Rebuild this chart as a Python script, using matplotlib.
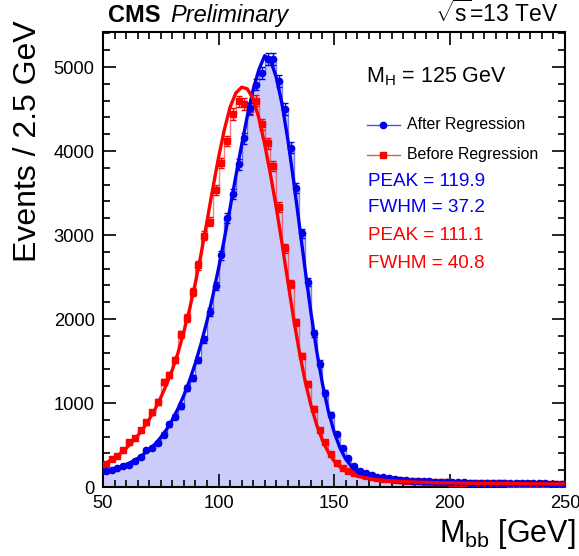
import numpy as np
import matplotlib
matplotlib.use("Agg")
import matplotlib.pyplot as plt

plt.rcParams['font.family'] = ['Liberation Sans', 'DejaVu Sans']
plt.rcParams['mathtext.fontset'] = 'custom'
plt.rcParams['mathtext.rm'] = 'Liberation Sans'
plt.rcParams['mathtext.it'] = 'Liberation Sans:italic'

# binning: 2.5 GeV bins from 50 to 250
bin_edges = np.arange(50, 250.01, 2.5)
bin_centers = 0.5 * (bin_edges[:-1] + bin_edges[1:])

# events per bin, after regression (blue)
after_counts = [185, 205, 225, 255, 265, 305, 357, 445, 468, 525,
                625, 745, 837, 965, 1175, 1300, 1510, 1760, 2085, 2390,
                2760, 3200, 3490, 3840, 4150, 4510, 4790, 4925, 5100, 5100,
                4830, 4500, 4040, 3560, 3020, 2440, 1830, 1470, 1120, 860,
                630, 470, 340, 250, 195, 165, 140, 125, 115, 105,
                95, 88, 82, 77, 73, 70, 67, 64, 62, 60,
                58, 56, 55, 53, 52, 51, 50, 49, 48, 47,
                46, 45, 45, 44, 43, 43, 42, 41, 41, 40]

# events per bin, before regression (red)
before_counts = [275, 330, 375, 440, 535, 585, 680, 770, 890, 1010,
                 1250, 1330, 1510, 1820, 2010, 2320, 2640, 2990, 3160, 3540,
                 3860, 4120, 4440, 4590, 4560, 4500, 4600, 4320, 4090, 3820,
                 3330, 2840, 2420, 1960, 1560, 1230, 930, 680, 540, 390,
                 285, 225, 190, 170, 150, 135, 120, 110, 100, 92,
                 86, 80, 75, 71, 67, 64, 61, 58, 56, 54,
                 52, 50, 49, 48, 47, 46, 45, 44, 43, 42,
                 41, 41, 40, 39, 39, 38, 38, 37, 37, 36]

# fitted curves, sampled every 2.5 GeV from 50 to 250
fit_x = np.arange(50, 250.01, 2.5)
after_fit = [170, 190, 212, 238, 268, 300, 340, 390, 445, 510,
             590, 685, 800, 935, 1090, 1270, 1475, 1710, 1975, 2270,
             2600, 2950, 3320, 3700, 4070, 4420, 4730, 4970, 5135, 5080,
             4880, 4560, 4140, 3650, 3120, 2590, 2080, 1620, 1230, 910,
             660, 470, 335, 245, 185, 150, 128, 113, 102, 94,
             88, 83, 79, 75, 72, 69, 66, 64, 62, 60,
             58, 57, 55, 54, 53, 52, 51, 50, 49, 48,
             47, 47, 46, 45, 45, 44, 44, 43, 43, 42, 42]
before_fit = [265, 305, 350, 400, 460, 530, 610, 700, 805, 925,
              1065, 1220, 1395, 1600, 1850, 2120, 2430, 2780, 3160, 3550,
              3920, 4250, 4520, 4690, 4760, 4740, 4620, 4390, 4080, 3720,
              3330, 2900, 2450, 2010, 1610, 1260, 975, 740, 555, 415,
              310, 240, 190, 155, 130, 115, 102, 92, 84, 78,
              73, 69, 65, 62, 59, 57, 55, 53, 51, 50,
              49, 48, 47, 46, 45, 44, 43, 43, 42, 41,
              41, 40, 40, 39, 39, 38, 38, 37, 37, 36, 36]

after_counts = np.array(after_counts, dtype=float)
before_counts = np.array(before_counts, dtype=float)

blue = '#0000ee'
red = '#ff0000'
fill = '#ccccfa'

W, H = 579, 556
fig = plt.figure(figsize=(W / 100, H / 100), dpi=100)
ax = fig.add_axes([103 / W, 1 - 487 / H, (565 - 103) / W, (487 - 32) / H])

# blue filled histogram
ax.fill_between(bin_edges, np.append(after_counts, after_counts[-1]), step='post',
                color=fill, lw=0, zorder=1)
ax.step(bin_edges, np.append(after_counts, after_counts[-1]), where='post',
        color=blue, lw=1, alpha=0.5, zorder=2)
ax.step(bin_edges, np.append(before_counts, before_counts[-1]), where='post',
        color=red, lw=1, alpha=0.5, zorder=2)

ax.errorbar(bin_centers, before_counts, yerr=np.sqrt(before_counts), fmt='s',
            color=red, ms=4.2, elinewidth=1, capsize=2, capthick=1, zorder=3)
ax.errorbar(bin_centers, after_counts, yerr=np.sqrt(after_counts), fmt='o',
            color=blue, ms=4.5, elinewidth=1, capsize=2, capthick=1, zorder=4)

ax.plot(fit_x, after_fit, color=blue, lw=2.4, zorder=5)
ax.plot(fit_x, before_fit, color=red, lw=2.4, zorder=6)

ax.set_xlim(50, 250)
ax.set_ylim(0, 5417)
ax.set_xticks([50, 100, 150, 200, 250])
ax.set_xticks(np.arange(50, 251, 5), minor=True)
ax.set_yticks(np.arange(0, 5001, 1000))
ax.set_yticks(np.arange(0, 5401, 200), minor=True)
ax.tick_params(which='both', direction='in', top=True, right=True, width=1.2,
               labelsize=13.2)
ax.tick_params(which='major', length=9.5)
ax.tick_params(which='minor', length=5)
ax.tick_params(axis='x', pad=6)
ax.tick_params(axis='y', pad=6)
for s in ax.spines.values():
    s.set_linewidth(1.5)

fig.text(28 / W, 1 - 20 / H, 'Events / 2.5 GeV', rotation=90, ha='center',
         va='top', fontsize=23)
fig.text(576 / W, 1 - 542 / H, r'M$_{\mathrm{bb}}$ [GeV]', ha='right',
         va='baseline', fontsize=22)

fig.text(108 / W, 1 - 22 / H, 'CMS', fontweight='bold', fontsize=17, va='baseline')
fig.text(170 / W, 1 - 22 / H, 'Preliminary', fontstyle='italic', fontsize=17,
         va='baseline')
fig.text(558 / W, 1 - 22 / H, r'$\sqrt{\mathrm{s}}$=13 TeV', ha='right', fontsize=16.5,
         va='baseline')

fig.text(366 / W, 1 - 82 / H, r'M$_{\mathrm{H}}$ = 125 GeV', fontsize=15.5,
         va='baseline')

# legend entries drawn by hand, like the original
ax_px = lambda px, py: ax.transAxes.inverted().transform(
    fig.transFigure.transform((px / W, 1 - py / H)))
for py, col, mk, lab in [(125, blue, 'o', 'After Regression'),
                         (155, red, 's', 'Before Regression')]:
    p0 = ax_px(367, py)
    p1 = ax_px(400, py)
    ax.plot([p0[0], p1[0]], [p0[1], p1[1]], color=col, lw=1, alpha=0.7,
            transform=ax.transAxes, clip_on=False)
    pm = ax_px(383, py)
    ax.plot([pm[0]], [pm[1]], marker=mk, color=col, ms=4.5,
            transform=ax.transAxes, clip_on=False)
    fig.text(407 / W, 1 - py / H, lab, fontsize=11.4, va='center')

fig.text(368 / W, 1 - 181 / H, 'PEAK = 119.9', color=blue, fontsize=13.6, va='center')
fig.text(368 / W, 1 - 208 / H, 'FWHM = 37.2', color=blue, fontsize=13.6, va='center')
fig.text(368 / W, 1 - 236 / H, 'PEAK = 111.1', color=red, fontsize=13.6, va='center')
fig.text(368 / W, 1 - 264 / H, 'FWHM = 40.8', color=red, fontsize=13.6, va='center')

fig.savefig('out.png', dpi=100)
